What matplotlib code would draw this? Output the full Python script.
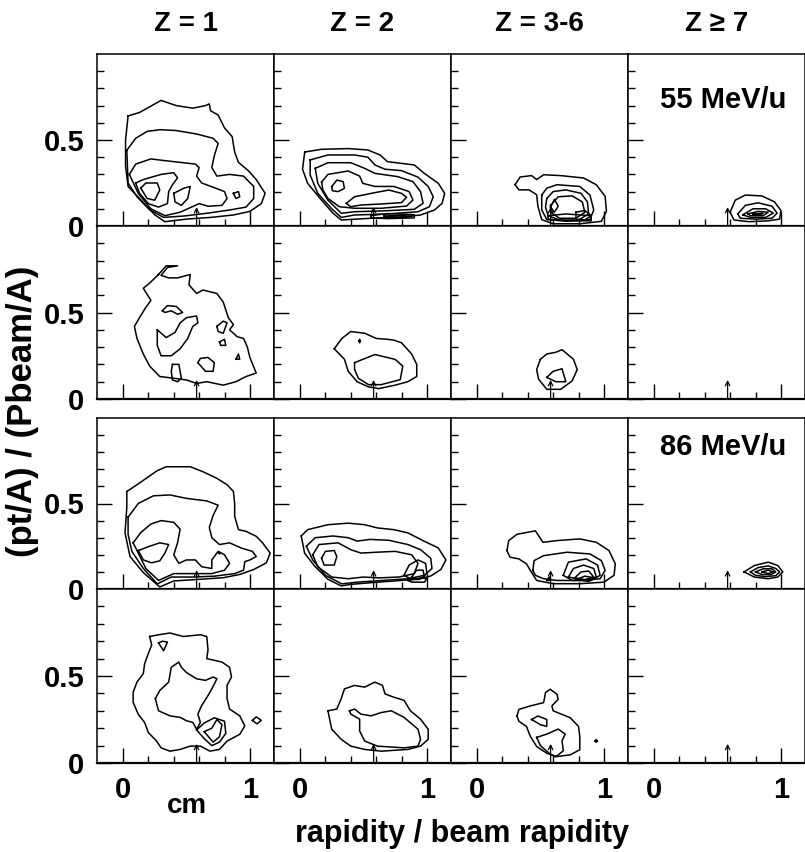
"""Contour panels of (pt/A)/(Pbeam/A) vs rapidity / beam rapidity, by Z and beam energy."""

import matplotlib

matplotlib.use("Agg")
import matplotlib.pyplot as plt

plt.rcParams["font.family"] = ["Liberation Sans", "DejaVu Sans"]
plt.rcParams["font.weight"] = "bold"

# column / row labels
col_titles = ["Z = 1", "Z = 2", "Z = 3-6", "Z ≥ 7"]
energy_labels = {0: "55 MeV/u", 2: "86 MeV/u"}
mid_rapidity = 0.58  # arrow position

# contour lines, one list of loops per panel
# row 1: 55 MeV/u (upper), row 2: 55 MeV/u (lower)
e55_z1 = [
    [(0.04, 0.64), (0.13, 0.66), (0.30, 0.73), (0.42, 0.70), (0.55, 0.685), (0.65, 0.70), (0.68, 0.71),
     (0.69, 0.67), (0.75, 0.645), (0.80, 0.57), (0.86, 0.52), (0.88, 0.43), (0.91, 0.37), (0.99, 0.32),
     (1.05, 0.27), (1.12, 0.19), (1.09, 0.13), (1.00, 0.085), (0.87, 0.064), (0.69, 0.05), (0.50, 0.04),
     (0.33, 0.025), (0.25, 0.065), (0.13, 0.16), (0.04, 0.23), (0.02, 0.35), (0.02, 0.50)],
    [(0.03, 0.44), (0.10, 0.51), (0.19, 0.55), (0.29, 0.56), (0.42, 0.555), (0.58, 0.535), (0.71, 0.51),
     (0.75, 0.48), (0.72, 0.41), (0.70, 0.34), (0.74, 0.29), (0.84, 0.30), (0.95, 0.29), (1.03, 0.23),
     (1.03, 0.16), (0.97, 0.11), (0.84, 0.093), (0.66, 0.074), (0.48, 0.058), (0.32, 0.05), (0.21, 0.094),
     (0.11, 0.17), (0.04, 0.25)],
    [(0.05, 0.30), (0.10, 0.36), (0.22, 0.39), (0.33, 0.38), (0.45, 0.37), (0.57, 0.36), (0.60, 0.34),
     (0.58, 0.29), (0.62, 0.25), (0.73, 0.22), (0.80, 0.20), (0.82, 0.16), (0.78, 0.12), (0.67, 0.115),
     (0.60, 0.13), (0.54, 0.11), (0.45, 0.08), (0.33, 0.06), (0.22, 0.10), (0.12, 0.19)],
    [(0.10, 0.25), (0.16, 0.27), (0.30, 0.30), (0.40, 0.31), (0.43, 0.28), (0.39, 0.24), (0.36, 0.20),
     (0.35, 0.13), (0.28, 0.11), (0.20, 0.13), (0.13, 0.19)],
    [(0.14, 0.22), (0.18, 0.25), (0.27, 0.25), (0.29, 0.21), (0.25, 0.15), (0.19, 0.16)],
    [(0.40, 0.19), (0.48, 0.22), (0.53, 0.23), (0.51, 0.16), (0.46, 0.12), (0.41, 0.14)],
    [(0.87, 0.19), (0.91, 0.20), (0.92, 0.17), (0.89, 0.16)],
]
e55_z2 = [
    [(0.037, 0.43), (0.17, 0.446), (0.38, 0.45), (0.535, 0.442), (0.63, 0.413), (0.69, 0.374), (0.80, 0.364),
     (0.90, 0.355), (0.98, 0.306), (1.09, 0.248), (1.14, 0.19), (1.12, 0.132), (1.06, 0.093), (0.95, 0.064),
     (0.82, 0.054), (0.56, 0.045), (0.325, 0.035), (0.26, 0.074), (0.17, 0.15), (0.06, 0.248), (0.02, 0.33)],
    [(0.08, 0.384), (0.22, 0.413), (0.43, 0.413), (0.535, 0.40), (0.59, 0.355), (0.67, 0.33), (0.80, 0.322),
     (0.93, 0.284), (1.01, 0.23), (1.05, 0.17), (1.02, 0.112), (0.93, 0.083), (0.69, 0.070), (0.43, 0.064),
     (0.325, 0.05), (0.25, 0.10), (0.14, 0.19), (0.08, 0.296)],
    [(0.12, 0.335), (0.22, 0.368), (0.40, 0.368), (0.51, 0.335), (0.59, 0.306), (0.77, 0.287), (0.89, 0.258),
     (0.95, 0.20), (0.97, 0.132), (0.90, 0.097), (0.69, 0.089), (0.43, 0.083), (0.325, 0.074), (0.22, 0.15),
     (0.14, 0.248)],
    [(0.17, 0.255), (0.22, 0.30), (0.38, 0.32), (0.47, 0.29), (0.495, 0.248), (0.59, 0.23), (0.74, 0.23),
     (0.86, 0.20), (0.89, 0.151), (0.84, 0.116), (0.64, 0.103), (0.43, 0.103), (0.31, 0.112), (0.22, 0.16),
     (0.18, 0.21)],
    [(0.25, 0.229), (0.29, 0.267), (0.34, 0.258), (0.35, 0.219), (0.30, 0.20), (0.255, 0.205)],
    [(0.365, 0.132), (0.43, 0.17), (0.59, 0.194), (0.70, 0.209), (0.80, 0.19), (0.84, 0.167), (0.80, 0.136),
     (0.64, 0.128), (0.48, 0.122), (0.40, 0.112)],
    [(0.56, 0.061), (0.69, 0.072), (0.90, 0.066), (0.90, 0.047), (0.69, 0.043), (0.56, 0.047)],
    [(0.66, 0.058), (0.80, 0.062), (0.88, 0.055), (0.80, 0.050), (0.66, 0.052)],
]
e55_z36 = [
    [(0.30, 0.24), (0.34, 0.285), (0.43, 0.293), (0.47, 0.27), (0.525, 0.298), (0.66, 0.293), (0.84, 0.279),
     (0.94, 0.24), (1.01, 0.172), (1.02, 0.085), (0.98, 0.027), (0.81, 0.013), (0.60, 0.013), (0.51, 0.037),
     (0.48, 0.114), (0.47, 0.182), (0.41, 0.21), (0.33, 0.21)],
    [(0.51, 0.18), (0.55, 0.22), (0.63, 0.24), (0.81, 0.23), (0.89, 0.18), (0.92, 0.094), (0.89, 0.037),
     (0.71, 0.028), (0.55, 0.037), (0.51, 0.094)],
    [(0.55, 0.16), (0.60, 0.20), (0.70, 0.21), (0.82, 0.19), (0.87, 0.14), (0.88, 0.07), (0.80, 0.035),
     (0.65, 0.035), (0.56, 0.06), (0.54, 0.11)],
    [(0.58, 0.12), (0.64, 0.17), (0.75, 0.175), (0.83, 0.14), (0.85, 0.08), (0.78, 0.045), (0.65, 0.045),
     (0.58, 0.08)],
    [(0.58, 0.11), (0.61, 0.155), (0.64, 0.115), (0.61, 0.08)],
    [(0.56, 0.06), (0.70, 0.07), (0.90, 0.06), (0.90, 0.03), (0.70, 0.03), (0.56, 0.04)],
    [(0.78, 0.08), (0.85, 0.09), (0.90, 0.06), (0.85, 0.035), (0.78, 0.04)],
]
e55_z7 = [
    [(0.60, 0.08), (0.64, 0.15), (0.72, 0.18), (0.85, 0.175), (0.95, 0.14), (1.00, 0.09), (0.99, 0.04),
     (0.90, 0.03), (0.75, 0.025), (0.63, 0.035)],
    [(0.66, 0.07), (0.72, 0.12), (0.82, 0.135), (0.93, 0.115), (0.97, 0.075), (0.93, 0.045), (0.80, 0.04),
     (0.68, 0.045)],
    [(0.70, 0.065), (0.78, 0.10), (0.88, 0.10), (0.94, 0.075), (0.88, 0.05), (0.76, 0.05)],
    [(0.74, 0.07), (0.82, 0.085), (0.90, 0.08), (0.86, 0.06), (0.76, 0.06)],
    [(0.78, 0.07), (0.86, 0.075), (0.84, 0.065)],
]
e55b_z1 = [
    [(0.28, 0.72), (0.34, 0.77), (0.43, 0.77), (0.35, 0.76), (0.30, 0.715), (0.36, 0.70), (0.43, 0.70),
     (0.53, 0.72), (0.52, 0.66), (0.58, 0.61), (0.63, 0.63), (0.74, 0.61), (0.79, 0.56), (0.83, 0.47),
     (0.87, 0.43), (0.84, 0.40), (0.90, 0.36), (0.95, 0.35), (0.98, 0.30), (1.00, 0.24), (1.05, 0.15),
     (0.97, 0.13), (0.89, 0.10), (0.79, 0.08), (0.66, 0.10), (0.58, 0.09), (0.50, 0.11), (0.40, 0.12),
     (0.29, 0.13), (0.21, 0.19), (0.16, 0.26), (0.11, 0.35), (0.09, 0.42), (0.13, 0.47), (0.18, 0.53),
     (0.22, 0.57), (0.16, 0.64), (0.21, 0.67)],
    [(0.27, 0.40), (0.27, 0.31), (0.30, 0.25), (0.38, 0.25), (0.45, 0.29), (0.51, 0.35), (0.55, 0.42),
     (0.59, 0.44), (0.58, 0.48), (0.50, 0.47), (0.45, 0.44), (0.41, 0.385), (0.34, 0.355)],
    [(0.31, 0.51), (0.35, 0.54), (0.42, 0.535), (0.47, 0.50), (0.43, 0.49), (0.38, 0.51), (0.33, 0.50)],
    [(0.74, 0.42), (0.79, 0.45), (0.82, 0.44), (0.79, 0.38), (0.75, 0.39)],
    [(0.76, 0.33), (0.80, 0.345), (0.81, 0.31), (0.77, 0.31)],
    [(0.89, 0.23), (0.91, 0.26), (0.92, 0.23)],
    [(0.59, 0.21), (0.61, 0.235), (0.67, 0.24), (0.72, 0.21), (0.71, 0.16), (0.65, 0.16)],
    [(0.39, 0.20), (0.44, 0.20), (0.46, 0.12), (0.43, 0.10), (0.39, 0.11), (0.38, 0.16)],
]
e55b_z2 = [
    [(0.27, 0.29), (0.33, 0.35), (0.40, 0.39), (0.51, 0.38), (0.60, 0.35), (0.69, 0.345), (0.74, 0.34),
     (0.80, 0.325), (0.88, 0.26), (0.92, 0.20), (0.92, 0.13), (0.85, 0.10), (0.75, 0.08), (0.62, 0.06),
     (0.54, 0.07), (0.45, 0.10), (0.38, 0.16), (0.35, 0.23)],
    [(0.43, 0.21), (0.59, 0.257), (0.75, 0.229), (0.81, 0.19), (0.79, 0.112), (0.64, 0.083), (0.54, 0.083),
     (0.46, 0.12), (0.43, 0.171)],
    [(0.465, 0.335), (0.47, 0.345), (0.475, 0.335), (0.47, 0.325)],
]
e55b_z36 = [
    [(0.50, 0.23), (0.55, 0.26), (0.62, 0.27), (0.67, 0.285), (0.76, 0.23), (0.79, 0.17), (0.75, 0.105),
     (0.66, 0.056), (0.55, 0.056), (0.485, 0.115), (0.47, 0.17)],
    [(0.55, 0.125), (0.60, 0.16), (0.67, 0.175), (0.70, 0.10), (0.62, 0.10)],
]
e55b_z7 = []

# rows 3-4: 86 MeV/u
e86_z1 = [
    [(0.03, 0.57), (0.15, 0.63), (0.265, 0.69), (0.34, 0.715), (0.53, 0.715), (0.63, 0.686), (0.74, 0.647),
     (0.82, 0.61), (0.87, 0.57), (0.88, 0.50), (0.88, 0.425), (0.91, 0.347), (0.97, 0.337), (1.05, 0.308),
     (1.10, 0.27), (1.16, 0.21), (1.13, 0.153), (1.03, 0.114), (0.92, 0.085), (0.79, 0.066), (0.61, 0.057),
     (0.40, 0.047), (0.29, 0.012), (0.16, 0.096), (0.055, 0.19), (0.016, 0.328), (0.03, 0.48)],
    [(0.04, 0.42), (0.12, 0.50), (0.24, 0.545), (0.37, 0.55), (0.50, 0.53), (0.66, 0.515), (0.75, 0.49),
     (0.71, 0.43), (0.68, 0.36), (0.70, 0.30), (0.76, 0.26), (0.84, 0.27), (0.93, 0.24), (1.02, 0.22),
     (1.05, 0.19), (1.00, 0.17), (0.96, 0.16), (0.95, 0.11), (0.88, 0.09), (0.72, 0.075), (0.55, 0.07),
     (0.38, 0.07), (0.27, 0.03), (0.16, 0.12), (0.07, 0.22), (0.04, 0.32)],
    [(0.08, 0.27), (0.14, 0.33), (0.22, 0.38), (0.30, 0.40), (0.40, 0.39), (0.45, 0.35), (0.43, 0.27),
     (0.40, 0.20), (0.44, 0.15), (0.50, 0.17), (0.57, 0.17), (0.62, 0.13), (0.70, 0.12), (0.70, 0.17),
     (0.75, 0.22), (0.80, 0.20), (0.84, 0.15), (0.80, 0.11), (0.70, 0.09), (0.55, 0.09), (0.40, 0.09),
     (0.28, 0.05), (0.18, 0.12)],
    [(0.12, 0.225), (0.21, 0.25), (0.29, 0.27), (0.36, 0.26), (0.33, 0.21), (0.29, 0.165), (0.225, 0.153),
     (0.16, 0.17)],
    [(0.755, 0.21), (0.76, 0.215), (0.765, 0.21), (0.76, 0.205)],
]
e86_z2 = [
    [(0.01, 0.31), (0.06, 0.347), (0.22, 0.376), (0.38, 0.385), (0.51, 0.376), (0.61, 0.357), (0.74, 0.347),
     (0.85, 0.328), (0.98, 0.279), (1.09, 0.24), (1.15, 0.17), (1.11, 0.114), (1.03, 0.076), (0.93, 0.057),
     (0.74, 0.047), (0.56, 0.037), (0.40, 0.027), (0.325, 0.018), (0.22, 0.057), (0.115, 0.134), (0.036, 0.21)],
    [(0.05, 0.25), (0.12, 0.30), (0.26, 0.31), (0.38, 0.30), (0.45, 0.28), (0.55, 0.29), (0.70, 0.285),
     (0.85, 0.26), (0.95, 0.23), (1.03, 0.18), (1.04, 0.12), (0.98, 0.08), (0.85, 0.06), (0.65, 0.05),
     (0.45, 0.04), (0.33, 0.03), (0.20, 0.08), (0.10, 0.17)],
    [(0.10, 0.20), (0.15, 0.26), (0.30, 0.27), (0.40, 0.23), (0.48, 0.21), (0.60, 0.215), (0.75, 0.22),
     (0.88, 0.20), (0.93, 0.15), (0.90, 0.09), (0.78, 0.07), (0.62, 0.065), (0.50, 0.07), (0.38, 0.06),
     (0.25, 0.07), (0.14, 0.13)],
    [(0.17, 0.18), (0.20, 0.22), (0.27, 0.225), (0.29, 0.19), (0.27, 0.14), (0.19, 0.14)],
    [(0.82, 0.08), (0.86, 0.14), (0.93, 0.17), (0.99, 0.15), (1.00, 0.09), (0.95, 0.06), (0.87, 0.06)],
    [(0.88, 0.07), (0.92, 0.11), (0.97, 0.11), (0.98, 0.07), (0.93, 0.055)],
    [(0.85, 0.05), (0.95, 0.065), (1.00, 0.06), (0.98, 0.04), (0.88, 0.04)],
]
e86_z36 = [
    [(0.236, 0.225), (0.25, 0.283), (0.315, 0.32), (0.46, 0.34), (0.52, 0.273), (0.63, 0.283), (0.81, 0.293),
     (0.94, 0.273), (1.04, 0.225), (1.09, 0.147), (1.08, 0.08), (1.00, 0.04), (0.81, 0.031), (0.60, 0.031),
     (0.47, 0.05), (0.42, 0.109), (0.39, 0.147), (0.33, 0.176), (0.26, 0.186)],
    [(0.44, 0.109), (0.45, 0.166), (0.525, 0.195), (0.71, 0.215), (0.89, 0.205), (0.98, 0.166), (1.01, 0.109),
     (0.97, 0.06), (0.81, 0.05), (0.63, 0.05), (0.525, 0.06), (0.46, 0.08)],
    [(0.68, 0.08), (0.72, 0.157), (0.86, 0.176), (0.95, 0.14), (0.97, 0.08), (0.90, 0.05), (0.75, 0.05)],
    [(0.72, 0.07), (0.76, 0.12), (0.84, 0.14), (0.92, 0.12), (0.94, 0.07), (0.85, 0.05)],
    [(0.77, 0.065), (0.82, 0.10), (0.88, 0.105), (0.92, 0.07), (0.85, 0.055)],
    [(0.78, 0.055), (0.85, 0.075), (0.93, 0.065), (0.88, 0.045)],
    [(0.55, 0.05), (0.57, 0.07), (0.58, 0.05)],
]
e86_z7 = [
    [(0.71, 0.10), (0.79, 0.137), (0.90, 0.157), (0.976, 0.137), (1.015, 0.10), (0.976, 0.07), (0.90, 0.06),
     (0.79, 0.07)],
    [(0.76, 0.10), (0.82, 0.125), (0.90, 0.135), (0.96, 0.12), (0.99, 0.10), (0.96, 0.078), (0.88, 0.072),
     (0.80, 0.08)],
    [(0.80, 0.10), (0.86, 0.118), (0.93, 0.118), (0.96, 0.10), (0.92, 0.083), (0.85, 0.085)],
    [(0.85, 0.10), (0.90, 0.11), (0.94, 0.10), (0.90, 0.09)],
]
e86b_z1 = [
    [(0.21, 0.727), (0.28, 0.737), (0.37, 0.747), (0.475, 0.727), (0.61, 0.737), (0.66, 0.727), (0.67, 0.65),
     (0.66, 0.60), (0.72, 0.59), (0.78, 0.58), (0.84, 0.55), (0.855, 0.494), (0.82, 0.446), (0.82, 0.37),
     (0.84, 0.31), (0.92, 0.271), (0.96, 0.213), (0.92, 0.165), (0.82, 0.126), (0.76, 0.078), (0.685, 0.068),
     (0.61, 0.097), (0.53, 0.097), (0.45, 0.078), (0.37, 0.068), (0.30, 0.087), (0.265, 0.126), (0.20, 0.175),
     (0.17, 0.233), (0.12, 0.28), (0.08, 0.349), (0.08, 0.407), (0.11, 0.465), (0.16, 0.514), (0.17, 0.57),
     (0.20, 0.63), (0.226, 0.678)],
    [(0.28, 0.69), (0.31, 0.70), (0.35, 0.695), (0.32, 0.645)],
    [(1.02, 0.245), (1.05, 0.265), (1.09, 0.245), (1.055, 0.225)],
    [(0.255, 0.37), (0.29, 0.417), (0.36, 0.465), (0.38, 0.55), (0.44, 0.58), (0.46, 0.55), (0.50, 0.52),
     (0.58, 0.484), (0.65, 0.475), (0.71, 0.494), (0.74, 0.484), (0.70, 0.426), (0.67, 0.388), (0.62, 0.33),
     (0.59, 0.281), (0.61, 0.233), (0.58, 0.194), (0.55, 0.233), (0.50, 0.243), (0.45, 0.262), (0.37, 0.271),
     (0.28, 0.30)],
    [(0.58, 0.19), (0.64, 0.23), (0.72, 0.26), (0.80, 0.24), (0.81, 0.17), (0.76, 0.12), (0.70, 0.10),
     (0.64, 0.14)],
    [(0.64, 0.18), (0.70, 0.20), (0.74, 0.25), (0.78, 0.22), (0.76, 0.15), (0.71, 0.12)],
]
e86b_z2 = [
    [(0.22, 0.30), (0.25, 0.194), (0.325, 0.136), (0.40, 0.097), (0.51, 0.078), (0.64, 0.068), (0.85, 0.078),
     (0.95, 0.097), (1.01, 0.136), (1.01, 0.194), (0.95, 0.252), (0.87, 0.30), (0.82, 0.36), (0.74, 0.378),
     (0.67, 0.397), (0.65, 0.446), (0.59, 0.465), (0.51, 0.436), (0.43, 0.446), (0.35, 0.426), (0.325, 0.37),
     (0.29, 0.31)],
    [(0.39, 0.30), (0.43, 0.31), (0.48, 0.281), (0.56, 0.271), (0.64, 0.29), (0.72, 0.30), (0.82, 0.262),
     (0.93, 0.194), (0.95, 0.136), (0.93, 0.097), (0.82, 0.087), (0.61, 0.097), (0.51, 0.126), (0.47, 0.184),
     (0.47, 0.252), (0.40, 0.281)],
]
e86b_z36 = [
    [(0.315, 0.27), (0.33, 0.308), (0.42, 0.328), (0.525, 0.347), (0.54, 0.405), (0.577, 0.424), (0.63, 0.395),
     (0.64, 0.366), (0.59, 0.328), (0.60, 0.30), (0.735, 0.26), (0.80, 0.21), (0.81, 0.153), (0.81, 0.076),
     (0.735, 0.047), (0.63, 0.037), (0.55, 0.056), (0.47, 0.095), (0.42, 0.153), (0.39, 0.21), (0.33, 0.24)],
    [(0.43, 0.25), (0.48, 0.27), (0.55, 0.25), (0.55, 0.21), (0.50, 0.22)],
    [(0.47, 0.147), (0.55, 0.166), (0.64, 0.195), (0.695, 0.166), (0.67, 0.128), (0.68, 0.07), (0.62, 0.035),
     (0.577, 0.05), (0.50, 0.10)],
    [(0.93, 0.125), (0.94, 0.135), (0.95, 0.125), (0.94, 0.12)],
]
e86b_z7 = []

panels = [
    [e55_z1, e55_z2, e55_z36, e55_z7],
    [e55b_z1, e55b_z2, e55b_z36, e55b_z7],
    [e86_z1, e86_z2, e86_z36, e86_z7],
    [e86b_z1, e86b_z2, e86b_z36, e86b_z7],
]

x_major = [0, 1]
x_minor = [0.2, 0.4, 0.6, 0.8]
y_major = [0, 0.5]
y_minor = [0.1, 0.2, 0.3, 0.4, 0.6, 0.7, 0.8, 0.9]

W, H = 805, 852
fig = plt.figure(figsize=(W / 100, H / 100), dpi=100)

col_left = [97, 274, 451, 628]
col_w = 177
rows_px = [(54, 226), (226, 399), (418, 589), (589, 763)]

for r, (top, bot) in enumerate(rows_px):
    for c in range(4):
        ax = fig.add_axes([col_left[c] / W, 1 - bot / H, col_w / W, (bot - top) / H])
        for loop in panels[r][c]:
            xs = [p[0] for p in loop] + [loop[0][0]]
            ys = [p[1] for p in loop] + [loop[0][1]]
            ax.plot(xs, ys, color="black", lw=1.1)
        ax.annotate("", xy=(mid_rapidity, 0.11), xytext=(mid_rapidity, 0.0),
                    arrowprops=dict(arrowstyle="->", lw=0.9, color="black",
                                    shrinkA=0, shrinkB=0, mutation_scale=8))
        ax.set_xlim(-0.205, 1.19)
        ax.set_ylim(0, 1.0)
        ax.set_xticks(x_major)
        ax.set_xticks(x_minor, minor=True)
        ax.set_yticks(y_major)
        ax.set_yticks(y_minor, minor=True)
        ax.tick_params(which="both", direction="in", top=False, right=False, width=1.0)
        ax.tick_params(which="major", length=11)
        ax.tick_params(which="minor", length=5)
        ax.tick_params(axis="both", labelsize=21)
        if c == 0:
            ax.set_yticklabels(["0", "0.5"], fontweight="bold")
            ax.tick_params(axis="y", pad=9)
        else:
            ax.set_yticklabels([])
        if r == 3:
            ax.set_xticklabels(["0", "1"], fontweight="bold")
            ax.tick_params(axis="x", pad=9)
        else:
            ax.set_xticklabels([])
        for s in ax.spines.values():
            s.set_linewidth(1.1)
        ax.spines["bottom"].set_linewidth(1.6)
        if r in energy_labels and c == 3:
            ypos = 0.73 if r == 0 else 0.83
            ax.text(0.54, ypos, energy_labels[r], transform=ax.transAxes, ha="center", va="center",
                    fontsize=21, fontweight="bold")

for c, title in enumerate(col_titles):
    fig.text((col_left[c] + col_w / 2) / W, 1 - 24 / H, title, ha="center", va="center",
             fontsize=20, fontweight="bold")

fig.text(187 / W, 1 - 806 / H, "cm", ha="center", va="center", fontsize=20, fontweight="bold")
fig.text(462 / W, 1 - 834 / H, "rapidity / beam rapidity", ha="center", va="center",
         fontsize=22, fontweight="bold")
fig.text(23 / W, 1 - 411 / H, "(pt/A) / (Pbeam/A)", ha="center", va="center", rotation=90,
         fontsize=25, fontweight="bold")

fig.savefig("out.png", dpi=100)
plt.close(fig)
